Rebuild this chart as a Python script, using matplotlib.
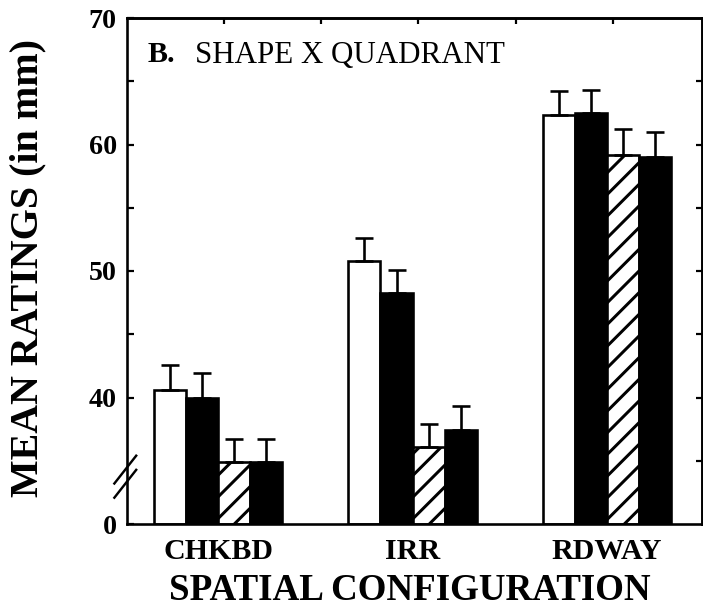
import numpy as np
import matplotlib
matplotlib.use("Agg")
import matplotlib.pyplot as plt

#  ############################# Data ########################################

categories = ['CHKBD', 'IRR', 'RDWAY']
# four bars per configuration (white, black, hatched, black)
bar_tops = [
    [40.6, 50.8, 62.3],
    [40.0, 48.3, 62.5],
    [34.9, 36.1, 59.2],
    [34.9, 37.4, 59.0],
]
bar_caps = [
    [42.6, 52.6, 64.2],
    [41.9, 50.1, 64.3],
    [36.7, 37.9, 61.2],
    [36.7, 39.3, 61.0],
]
y_ticks = [30, 40, 50, 60, 70]
y_ticklabels = ['0', '40', '50', '60', '70']

#  ############################# Plot parameters ##############################

DPI = 130
PT = 72.0 / DPI   # one pixel in points

plt.rcParams['font.family'] = ['Liberation Serif', 'DejaVu Serif']
plt.rcParams['hatch.linewidth'] = 3.0 * PT
plt.rcParams['hatch.color'] = 'black'

faces = ['white', 'black', 'white', 'black']
hatches = [None, None, '//', None]

fig = plt.figure(figsize=(703 / DPI, 611 / DPI), dpi=DPI)
ax = fig.add_axes([127 / 703, 1 - 524 / 611, 575 / 703, 506 / 611])

x = np.arange(len(categories))
w = 0.165
offsets = [-1.5, -0.5, 0.5, 1.5]

for k in range(4):
    xs = x + offsets[k] * w
    tops = np.array(bar_tops[k])
    err = np.array(bar_caps[k]) - tops
    ax.bar(xs, tops - 30, bottom=30, width=w, color=faces[k],
           edgecolor='black', linewidth=2.6 * PT, hatch=hatches[k], zorder=2)
    ax.errorbar(xs, tops, yerr=[np.zeros_like(err), err], fmt='none',
                ecolor='black', elinewidth=2.6 * PT, capsize=9 * PT,
                capthick=2.6 * PT, zorder=3)

ax.set_xlim(-0.468, 2.488)
ax.set_ylim(30, 70)

ax.set_yticks(y_ticks)
ax.set_yticklabels(y_ticklabels, fontsize=28 * PT, fontweight='bold')
ax.set_yticks([45, 55, 65], minor=True)
ax.tick_params(axis='y', which='both', direction='in', length=7 * PT,
               width=2.2 * PT, pad=10 * PT)

ax.set_xticks(x)
ax.set_xticklabels(categories, fontsize=30 * PT, fontweight='bold')
ax.tick_params(axis='x', length=0, pad=14 * PT)

for s in ax.spines.values():
    s.set_linewidth(2.6 * PT)

# ticks on the top and right frame
top = ax.secondary_xaxis('top')
top.set_xticks([0.03, 0.53, 1.03, 1.53, 2.03])
top.tick_params(direction='in', length=6 * PT, width=2.2 * PT, labeltop=False)
top.spines['top'].set_linewidth(2.6 * PT)
right = ax.secondary_yaxis('right')
right.set_yticks([35, 40, 45, 50, 55, 60, 65])
right.tick_params(direction='in', length=6 * PT, width=2.2 * PT,
                  labelright=False)
right.spines['right'].set_linewidth(2.6 * PT)

# axis break marks
for dy in (0.0, -0.028):
    ax.plot([-0.022, 0.016], [0.08 + dy, 0.135 + dy], transform=ax.transAxes,
            color='black', lw=2.4 * PT, clip_on=False, zorder=5)

ax.text(0.035, 0.955, 'B.', transform=ax.transAxes, fontsize=30 * PT,
        fontweight='bold', va='top')
ax.text(0.118, 0.955, 'SHAPE X QUADRANT', transform=ax.transAxes,
        fontsize=31 * PT, va='top')

fig.text(28 / 703, 1 - 268 / 611, 'MEAN RATINGS (in mm)', rotation=90,
         fontsize=40 * PT, fontweight='bold', ha='center', va='center')
fig.text(410 / 703, 1 - 590 / 611, 'SPATIAL CONFIGURATION',
         fontsize=37 * PT, fontweight='bold', ha='center', va='center')

plt.savefig('out.png', dpi=DPI)
